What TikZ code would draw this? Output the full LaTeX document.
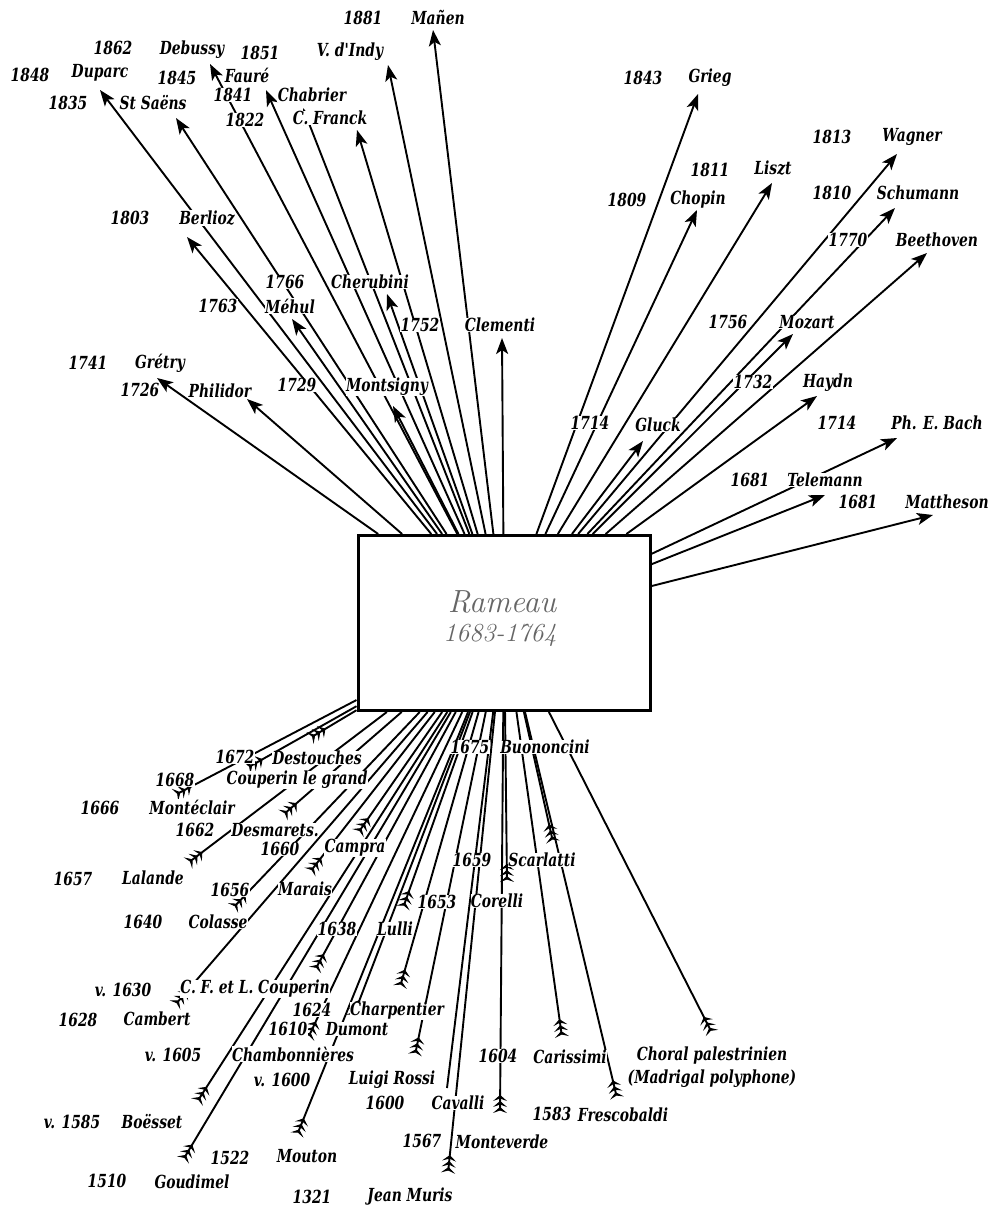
\documentclass[tikz,border=0pt]{standalone}
\usepackage{fontspec}
\newfontfamily\labfont{DejaVu Serif}
\usetikzlibrary{arrows.meta}
\newcommand\cmpnode[5]{\node[lab] (y#1) at (#2) {\scalebox{0.77}[1]{#3}}; \node[lab] (n#1) at (#4) {\scalebox{0.77}[1]{#5}};}
\begin{document}
\begin{tikzpicture}[x=1pt,y=-1pt,
  con/.style={line width=1.9pt},
  outarrow/.style={con,-{Stealth[length=16pt,width=12pt,inset=4pt]}},
  feath/.style={con,-{Stealth[reversed,length=6pt,width=14pt,inset=2.5pt,sep=0pt]Stealth[reversed,length=6pt,width=14pt,inset=2.5pt,sep=0pt]Stealth[reversed,length=6pt,width=14pt,inset=2.5pt]}},
  lab/.style={font=\labfont\fontsize{18}{20}\selectfont\bfseries\itshape,fill=white,inner sep=0.4pt},
  box/.style={draw,line width=3pt,fill=white,minimum width=292pt,minimum height=175pt},
  boxtext/.style={font=\fontsize{#1}{#1}\selectfont\itshape,text=black!60}]
\useasboundingbox (0,0) rectangle (1007,1207);
\node[box] (R) at (504,623) {};
\node[boxtext=32] (rname) at (502,602) {Rameau};
\node[boxtext=26] (rdates) at (500,635) {1683-1764};
% tips of outgoing arrows
\coordinate (tMan) at (433,30);
\coordinate (tDeb) at (210,64);
\coordinate (tInd) at (388,65);
\coordinate (tDup) at (100,90);
\coordinate (tFau) at (266,90);
\coordinate (tSai) at (176,118);
\coordinate (tCha) at (303,108);
\coordinate (tFra) at (357,130);
\coordinate (tBer) at (187,237);
\coordinate (tChe) at (387,294);
\coordinate (tMeh) at (292,319);
\coordinate (tCle) at (502,338);
\coordinate (tGre) at (157,378);
\coordinate (tPhi) at (247,399);
\coordinate (tMon) at (393,406);
\coordinate (tGri) at (698,94);
\coordinate (tCho) at (697,210);
\coordinate (tLis) at (772,183);
\coordinate (tWag) at (897,154);
\coordinate (tSch) at (895,208);
\coordinate (tBee) at (927,253);
\coordinate (tMoz) at (793,334);
\coordinate (tGlu) at (643,441);
\coordinate (tHay) at (817,396);
\coordinate (tBac) at (897,438);
\coordinate (tTel) at (825,495);
\coordinate (tMat) at (933,515);
% feather ends of incoming lines
\coordinate (fDes) at (310,738);
\coordinate (fCou) at (247,768);
\coordinate (fMon) at (175,795);
\coordinate (fDsm) at (283,815);
\coordinate (fLal) at (188,863);
\coordinate (fCam) at (358,833);
\coordinate (fMar) at (310,872);
\coordinate (fCol) at (233,908);
\coordinate (fLul) at (403,908);
\coordinate (fCFL) at (315,970);
\coordinate (fCmb) at (175,1005);
\coordinate (fChp) at (400,987);
\coordinate (fDum) at (353,1017);
\coordinate (fChb) at (308,1038);
\coordinate (fRos) at (415,1055);
\coordinate (fBoe) at (197,1102);
\coordinate (fMou) at (297,1135);
\coordinate (fGou) at (183,1160);
\coordinate (fMur) at (448,1173);
\coordinate (fMtv) at (500,1113);
\coordinate (fCor) at (507,882);
\coordinate (fSca) at (553,842);
\coordinate (fCar) at (562,1037);
\coordinate (fFre) at (617,1098);
\coordinate (fPal) at (712,1033);
\coordinate (eCav) at (447,1088);
% connectors
\foreach \t in {tMan,tDeb,tInd,tDup,tFau,tSai,tCha,tFra,tBer,tChe,tMeh,tCle,tGre,tPhi,tMon,tGri,tCho,tLis,tWag,tSch,tBee,tMoz,tGlu,tHay,tBac,tTel,tMat}
  \draw[outarrow] (R) -- (\t);
\foreach \f in {fDes,fCou,fMon,fDsm,fLal,fCam,fMar,fCol,fLul,fCFL,fCmb,fChp,fDum,fChb,fRos,fBoe,fMou,fGou,fMur,fMtv,fCor,fSca,fCar,fFre,fPal}
  \draw[feath] (R) -- (\f);
\draw[con] (R) -- (eCav);
% labels, top left
\cmpnode{Man}{363,18}{1881}{438,18}{Mañen}
\cmpnode{Deb}{113,48}{1862}{192,50}{Debussy}
\cmpnode{Ind}{260,53}{1851}{350,52}{V. d'Indy}
\cmpnode{Dup}{30,75}{1848}{100,73}{Duparc}
\cmpnode{Fau}{177,78}{1845}{247,75}{Fauré}
\cmpnode{Sai}{68,103}{1835}{153,103}{St Saëns}
\cmpnode{Cha}{233,95}{1841}{312,95}{Chabrier}
\cmpnode{Fra}{245,120}{1822}{330,118}{C. Franck}
\cmpnode{Ber}{130,218}{1803}{207,218}{Berlioz}
\cmpnode{Che}{285,282}{1766}{370,282}{Cherubini}
\cmpnode{Meh}{218,306}{1763}{290,306}{Méhul}
\cmpnode{Cle}{420,325}{1752}{500,325}{Clementi}
\cmpnode{Gre}{88,363}{1741}{160,363}{Grétry}
\cmpnode{Phi}{140,390}{1726}{220,391}{Philidor}
\cmpnode{Mon}{297,385}{1729}{387,387}{Montsigny}
% labels, top right
\cmpnode{Gri}{643,78}{1843}{710,78}{Grieg}
\cmpnode{Wag}{832,137}{1813}{912,137}{Wagner}
\cmpnode{Lis}{710,170}{1811}{773,168}{Liszt}
\cmpnode{Cho}{627,200}{1809}{698,200}{Chopin}
\cmpnode{Sch}{832,193}{1810}{918,193}{Schumann}
\cmpnode{Bee}{848,240}{1770}{937,240}{Beethoven}
\cmpnode{Moz}{728,322}{1756}{807,322}{Mozart}
\cmpnode{Hay}{753,382}{1732}{828,383}{Haydn}
\cmpnode{Glu}{590,423}{1714}{658,425}{Gluck}
\cmpnode{Bac}{837,423}{1714}{937,423}{Ph. E. Bach}
\cmpnode{Tel}{750,480}{1681}{825,480}{Telemann}
\cmpnode{Mat}{858,502}{1681}{947,502}{Mattheson}
% labels, bottom
\cmpnode{Des}{235,757}{1672}{317,758}{Destouches}
\cmpnode{Cou}{175,780}{1668}{297,780}{Couperin le grand}
\cmpnode{Mnt}{100,808}{1666}{192,807}{Montéclair}
\cmpnode{Dsm}{195,830}{1662}{275,830}{Desmarets.}
\cmpnode{Cam}{280,849}{1660}{355,848}{Campra}
\cmpnode{Lal}{73,879}{1657}{153,878}{Lalande}
\cmpnode{Mar}{230,890}{1656}{305,889}{Marais}
\cmpnode{Col}{143,922}{1640}{218,922}{Colasse}
\cmpnode{Lul}{337,929}{1638}{395,929}{Lulli}
\cmpnode{Buo}{470,747}{1675}{545,747}{Buononcini}
\cmpnode{Sca}{472,860}{1659}{542,860}{Scarlatti}
\cmpnode{Cor}{437,902}{1653}{497,901}{Corelli}
\cmpnode{CFL}{123,990}{v. 1630}{255,989}{C. F. et L. Couperin}
\cmpnode{Cmb}{78,1020}{1628}{157,1019}{Cambert}
\cmpnode{Chp}{312,1010}{1624}{397,1011}{Charpentier}
\cmpnode{Dum}{288,1029}{1610}{357,1029}{Dumont}
\cmpnode{Chb}{173,1055}{v. 1605}{293,1054}{Chambonnières}
\cmpnode{Ros}{282,1080}{v. 1600}{392,1080}{Luigi Rossi}
\cmpnode{Cav}{385,1103}{1600}{458,1103}{Cavalli}
\cmpnode{Boe}{72,1122}{v. 1585}{152,1122}{Boësset}
\cmpnode{Mtv}{422,1141}{1567}{502,1142}{Monteverde}
\cmpnode{Mou}{230,1158}{1522}{307,1156}{Mouton}
\cmpnode{Gou}{107,1181}{1510}{192,1182}{Goudimel}
\cmpnode{Mur}{312,1197}{1321}{410,1197}{Jean Muris}
\cmpnode{Car}{498,1056}{1604}{570,1057}{Carissimi}
\cmpnode{Fre}{552,1114}{1583}{623,1115}{Frescobaldi}
\node[lab] (pal1) at (712,1056) {\scalebox{0.77}[1]{Choral palestrinien}};
\node[lab] (pal2) at (712,1079) {\scalebox{0.77}[1]{(Madrigal polyphone)}};
\end{tikzpicture}
\end{document}
